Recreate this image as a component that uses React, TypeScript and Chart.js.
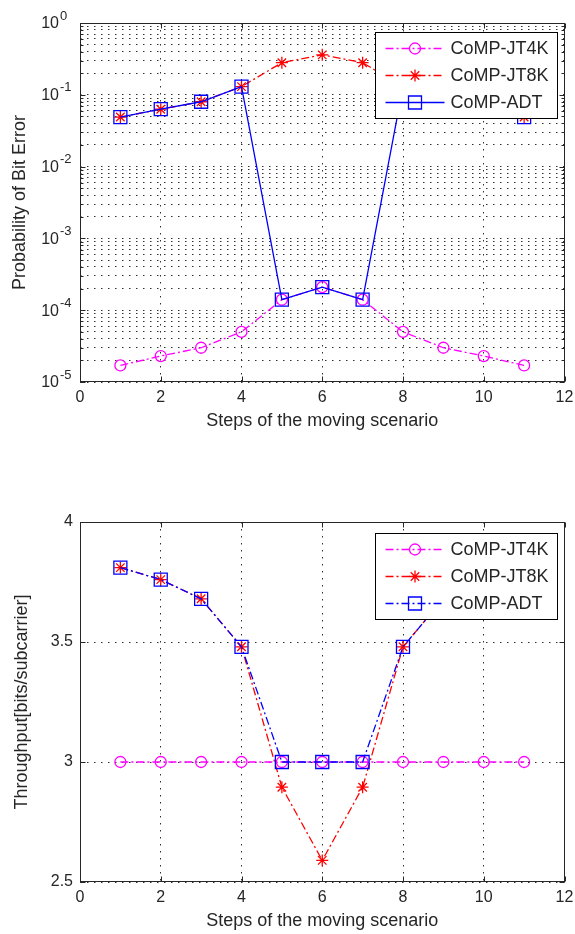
import React, { useEffect, useRef } from "react";
import { Chart, registerables } from "chart.js";

Chart.register(...registerables);

// ---------------- data ----------------
const steps = [1, 2, 3, 4, 5, 6, 7, 8, 9, 10, 11];
const seriesNames = ["CoMP-JT4K", "CoMP-JT8K", "CoMP-ADT"];

const berJT4K = [1.7e-5, 2.3e-5, 3.0e-5, 5.0e-5, 1.4e-4, 2.1e-4, 1.4e-4, 5.0e-5, 3.0e-5, 2.3e-5, 1.7e-5];
const berJT8K = [0.049, 0.063, 0.08, 0.13, 0.28, 0.36, 0.28, 0.13, 0.08, 0.063, 0.049];
const berADT = [0.049, 0.063, 0.08, 0.13, 1.4e-4, 2.1e-4, 1.4e-4, 0.13, 0.08, 0.063, 0.049];

const thrJT4K = [3, 3, 3, 3, 3, 3, 3, 3, 3, 3, 3];
const thrJT8K = [3.81, 3.76, 3.68, 3.48, 2.895, 2.59, 2.895, 3.48, 3.68, 3.76, 3.81];
const thrADT = [3.81, 3.76, 3.68, 3.48, 3.0, 3.0, 3.0, 3.48, 3.68, 3.76, 3.81];

const xTicks = [0, 2, 4, 6, 8, 10, 12];
const berDecades = [-5, -4, -3, -2, -1, 0];
const thrTicks = [2.5, 3, 3.5, 4];

const xTitle = "Steps of the moving scenario";
const berTitle = "Probability of Bit Error";
const thrTitle = "Throughput[bits/subcarrier]";

// ---------------- styles ----------------
const FONT = "'Liberation Sans', Arial, Helvetica, sans-serif";
const TEXT = "#262626";
const GRID = "#303030";
const GRID_DASH = [1.5, 5.5];
const DASHDOT = [8, 3, 2, 3];
const COLORS = ["#ff00ff", "#ff0000", "#0000ff"];
const STYLES = ["circle", "star", "rect"];
const RADII = [5.5, 6, 9.2];
const LW = 1.3;
const CANVAS_W = 575;
const CANVAS_H = 434;

function pts(vals: number[]) {
  return steps.map((s, i) => ({ x: s, y: vals[i] }));
}

function makeDatasets(series: number[][], dashes: number[][]) {
  return series.map((vals, i) => ({
    label: seriesNames[i],
    data: pts(vals),
    borderColor: COLORS[i],
    backgroundColor: "rgba(0,0,0,0)",
    borderWidth: LW,
    borderDash: dashes[i],
    pointStyle: STYLES[i],
    pointRadius: RADII[i],
    pointBorderColor: COLORS[i],
    pointBackgroundColor: "rgba(0,0,0,0)",
    pointBorderWidth: LW,
    tension: 0,
    order: 3 - i,
  }));
}

function drawMarker(ctx: CanvasRenderingContext2D, style: string, r: number, x: number, y: number) {
  ctx.beginPath();
  if (style === "circle") {
    ctx.arc(x, y, r, 0, Math.PI * 2);
  } else if (style === "rect") {
    const h = r * Math.SQRT1_2;
    ctx.rect(x - h, y - h, 2 * h, 2 * h);
  } else {
    const d = r * Math.SQRT1_2;
    ctx.moveTo(x - r, y); ctx.lineTo(x + r, y);
    ctx.moveTo(x, y - r); ctx.lineTo(x, y + r);
    ctx.moveTo(x - d, y - d); ctx.lineTo(x + d, y + d);
    ctx.moveTo(x - d, y + d); ctx.lineTo(x + d, y - d);
  }
  ctx.stroke();
}

function framePlugin(legendTopOffset: number, logY: boolean) {
  return {
    id: "matlabFrame",
    afterDatasetsDraw(chart: any) {
      const ctx: CanvasRenderingContext2D = chart.ctx;
      const a = chart.chartArea;
      const L = Math.round(a.left) + 0.5;
      const R = Math.round(a.right) - 0.5;
      const T = Math.round(a.top) + 0.5;
      const B = Math.round(a.bottom) - 0.5;
      ctx.save();
      ctx.setLineDash([]);
      ctx.strokeStyle = TEXT;
      ctx.lineWidth = 1;
      // inward ticks
      ctx.beginPath();
      const xs = chart.scales.x;
      xTicks.forEach((v) => {
        const px = Math.round(xs.getPixelForValue(v)) + 0.5;
        ctx.moveTo(px, B); ctx.lineTo(px, B - 5);
        ctx.moveTo(px, T); ctx.lineTo(px, T + 5);
      });
      const ys = chart.scales.y;
      ys.ticks.forEach((t: any) => {
        const py = Math.round(ys.getPixelForValue(t.value)) + 0.5;
        let len = 5;
        if (logY) {
          const m = t.value / Math.pow(10, Math.floor(Math.log10(t.value) + 1e-9));
          if (Math.abs(m - 1) > 1e-6) len = 3;
        }
        ctx.moveTo(L, py); ctx.lineTo(L + len, py);
        ctx.moveTo(R, py); ctx.lineTo(R - len, py);
      });
      ctx.stroke();
      // box
      ctx.strokeRect(L, T, R - L, B - T);

      // legend
      const bw = 182, bh = 86;
      const bx = Math.round(a.right - 8 - bw) + 0.5;
      const by = Math.round(a.top + legendTopOffset) + 0.5;
      ctx.fillStyle = "#ffffff";
      ctx.fillRect(bx, by, bw, bh);
      ctx.strokeStyle = "#000000";
      ctx.lineWidth = 1;
      ctx.strokeRect(bx, by, bw, bh);
      chart.data.datasets.forEach((ds: any, i: number) => {
        const cy = by + 16 + i * 27;
        ctx.strokeStyle = ds.borderColor;
        ctx.lineWidth = LW;
        ctx.setLineDash(ds.borderDash || []);
        ctx.beginPath();
        ctx.moveTo(bx + 10, cy);
        ctx.lineTo(bx + 69, cy);
        ctx.stroke();
        ctx.setLineDash([]);
        drawMarker(ctx, ds.pointStyle, ds.pointRadius, bx + 39.5, cy);
        ctx.fillStyle = TEXT;
        ctx.font = `18px ${FONT}`;
        ctx.textAlign = "left";
        ctx.textBaseline = "middle";
        ctx.fillText(ds.label, bx + 75, cy + 1);
      });
      ctx.restore();
    },
    afterDraw(chart: any) {
      if (!logY) return;
      const ctx: CanvasRenderingContext2D = chart.ctx;
      const ys = chart.scales.y;
      ctx.save();
      ctx.fillStyle = TEXT;
      ctx.textBaseline = "middle";
      berDecades.forEach((e) => {
        const py = ys.getPixelForValue(Math.pow(10, e));
        ctx.font = `16px ${FONT}`;
        ctx.textAlign = "right";
        ctx.fillText("10", 59, py + 1);
        ctx.font = `13px ${FONT}`;
        ctx.textAlign = "left";
        ctx.fillText(String(e), 60, py - 7);
      });
      ctx.restore();
    },
  };
}

function xScale() {
  return {
    type: "linear",
    min: 0,
    max: 12,
    afterBuildTicks: (s: any) => {
      s.ticks = xTicks.map((v) => ({ value: v }));
    },
    ticks: { font: { size: 16, family: FONT }, color: TEXT, padding: 6, maxRotation: 0, autoSkip: false },
    grid: { color: GRID, lineWidth: 1, drawTicks: false },
    border: { display: false, dash: GRID_DASH },
    title: { display: true, text: xTitle, font: { size: 18, family: FONT }, color: TEXT, padding: { top: 0, bottom: 2 } },
    afterFit: (s: any) => {
      s.height = 52;
      s.paddingLeft = 0;
      s.paddingRight = 0;
    },
  };
}

function berConfig(): any {
  return {
    type: "line",
    data: {
      datasets: makeDatasets([berJT4K, berJT8K, berADT], [DASHDOT, DASHDOT, []]),
    },
    options: {
      animation: false,
      responsive: false,
      devicePixelRatio: 1,
      layout: { padding: { top: 23, right: 9, left: 0, bottom: 0 } },
      plugins: { legend: { display: false }, tooltip: { enabled: false } },
      scales: {
        x: xScale(),
        y: {
          type: "logarithmic",
          min: 1e-5,
          max: 1,
          afterBuildTicks: (s: any) => {
            const t: any[] = [];
            for (let e = -5; e < 0; e++) {
              for (let m = 1; m <= 9; m++) t.push({ value: m * Math.pow(10, e) });
            }
            t.push({ value: 1 });
            s.ticks = t;
          },
          ticks: { display: false },
          grid: { color: GRID, lineWidth: 1, drawTicks: false },
          border: { display: false, dash: GRID_DASH },
          title: { display: true, text: berTitle, font: { size: 18, family: FONT }, color: TEXT, padding: { top: 9, bottom: 0 } },
          afterFit: (s: any) => {
            s.width = 80;
          },
        },
      },
    },
    plugins: [framePlugin(9, true)],
  };
}

function thrConfig(): any {
  return {
    type: "line",
    data: {
      datasets: makeDatasets([thrJT4K, thrJT8K, thrADT], [DASHDOT, DASHDOT, DASHDOT]),
    },
    options: {
      animation: false,
      responsive: false,
      devicePixelRatio: 1,
      layout: { padding: { top: 22, right: 9, left: 0, bottom: 0 } },
      plugins: { legend: { display: false }, tooltip: { enabled: false } },
      scales: {
        x: xScale(),
        y: {
          type: "linear",
          min: 2.5,
          max: 4,
          afterBuildTicks: (s: any) => {
            s.ticks = thrTicks.map((v) => ({ value: v }));
          },
          ticks: { font: { size: 16, family: FONT }, color: TEXT, padding: 7, callback: (v: any) => String(v) },
          grid: { color: GRID, lineWidth: 1, drawTicks: false },
          border: { display: false, dash: GRID_DASH },
          title: { display: true, text: thrTitle, font: { size: 18, family: FONT }, color: TEXT, padding: { top: 11, bottom: 0 } },
          afterFit: (s: any) => {
            s.width = 80;
          },
        },
      },
    },
    plugins: [framePlugin(11, false)],
  };
}

function ChartBox({ make, top }: { make: () => any; top: number }) {
  const ref = useRef<HTMLCanvasElement | null>(null);
  useEffect(() => {
    const c = new Chart(ref.current as HTMLCanvasElement, make());
    return () => c.destroy();
  }, []);
  return (
    <div style={{ position: "absolute", left: 0, top, width: CANVAS_W, height: CANVAS_H }}>
      <canvas ref={ref} width={CANVAS_W} height={CANVAS_H} style={{ display: "block", width: CANVAS_W, height: CANVAS_H }} />
    </div>
  );
}

export default function App() {
  return (
    <div style={{ position: "absolute", left: 0, top: 0, width: 575, height: 934, background: "#ffffff" }}>
      <ChartBox make={berConfig} top={0} />
      <ChartBox make={thrConfig} top={500} />
    </div>
  );
}
